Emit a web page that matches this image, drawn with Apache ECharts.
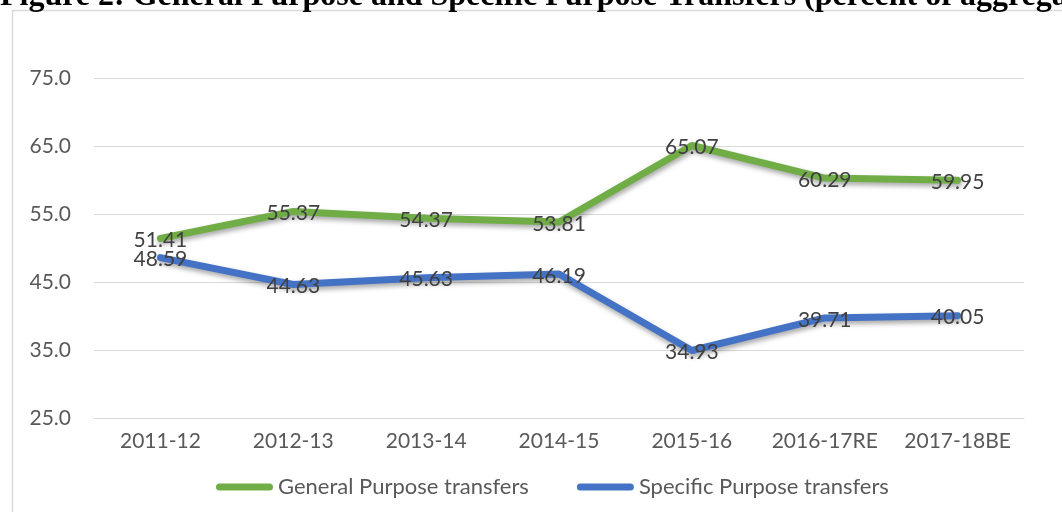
<!DOCTYPE html>
<html><head><meta charset="utf-8">
<script src="https://cdn.jsdelivr.net/npm/echarts@6/dist/echarts.min.js"></script>
<style>html,body{margin:0;padding:0;background:#fff}#c{width:1062px;height:512px}</style>
</head><body><div id="c"></div>
<script>
const categories = ['2011-12','2012-13','2013-14','2014-15','2015-16','2016-17RE','2017-18BE'];
const generalPurpose = [51.41,55.37,54.37,53.81,65.07,60.29,59.95];
const specificPurpose = [48.59,44.63,45.63,46.19,34.93,39.71,40.05];
const seriesNames = ['General Purpose transfers','Specific Purpose transfers'];
const titleText = 'Figure 2: General Purpose and Specific Purpose Transfers (percent of aggregate transfers)';

const chart = echarts.init(document.getElementById('c'));
const font = 'Lato, "Open Sans", sans-serif';
const pillIcon = 'path://M3.5,0 H53.5 A3.5,3.5 0 0 1 53.5,7 H3.5 A3.5,3.5 0 0 1 3.5,0 Z';
function mkSeries(name, data, color){
  return {
    name, type:'line', data, showSymbol:true, symbol:'circle', symbolSize:0,
    lineStyle:{width:7, color, cap:'round', join:'round', shadowColor:'rgba(0,0,0,0.35)', shadowBlur:5, shadowOffsetX:1, shadowOffsetY:3},
    itemStyle:{color},
    label:{show:true, position:'inside', offset:[0,2], formatter:p=>p.value.toFixed(2), color:'#404040', fontSize:21, fontFamily:font},
    emphasis:{disabled:true}, animation:false
  };
}
chart.setOption({
  animation:false,
  graphic:[
    {type:'line', shape:{x1:12.5,y1:10,x2:12.5,y2:512}, style:{stroke:'#d9d9d9', lineWidth:1.5}},
    {type:'line', shape:{x1:12,y1:10.5,x2:1062,y2:10.5}, style:{stroke:'#d9d9d9', lineWidth:1.5}},
    {type:'text', x:0, y:-3, style:{text:titleText, font:'bold 32px "Liberation Serif", serif', fill:'#000', verticalAlign:'middle'}}
  ],
  grid:{left:94, right:38, top:78, bottom:94},
  legend:{
    bottom:9, left:211, itemWidth:57, itemHeight:7, itemGap:48, icon:pillIcon,
    textStyle:{fontSize:22, color:'#595959', fontFamily:font},
    data:[
      {name:seriesNames[0], itemStyle:{color:'#70AD47', opacity:1}},
      {name:seriesNames[1], itemStyle:{color:'#4472C4', opacity:1}}
    ]
  },
  xAxis:{type:'category', data:categories, boundaryGap:true,
    axisLine:{lineStyle:{color:'#d9d9d9', width:1}}, axisTick:{show:false},
    axisLabel:{interval:0, fontSize:21, color:'#595959', fontFamily:font, margin:13}},
  yAxis:{type:'value', min:25, max:75, interval:10,
    axisLine:{show:false}, axisTick:{show:false},
    splitLine:{lineStyle:{color:'#d9d9d9', width:1}},
    axisLabel:{fontSize:21, color:'#595959', fontFamily:font, margin:23, formatter:v=>v.toFixed(1)}},
  series:[mkSeries(seriesNames[0], generalPurpose, '#70AD47'), mkSeries(seriesNames[1], specificPurpose, '#4472C4')]
});
</script></body></html>
